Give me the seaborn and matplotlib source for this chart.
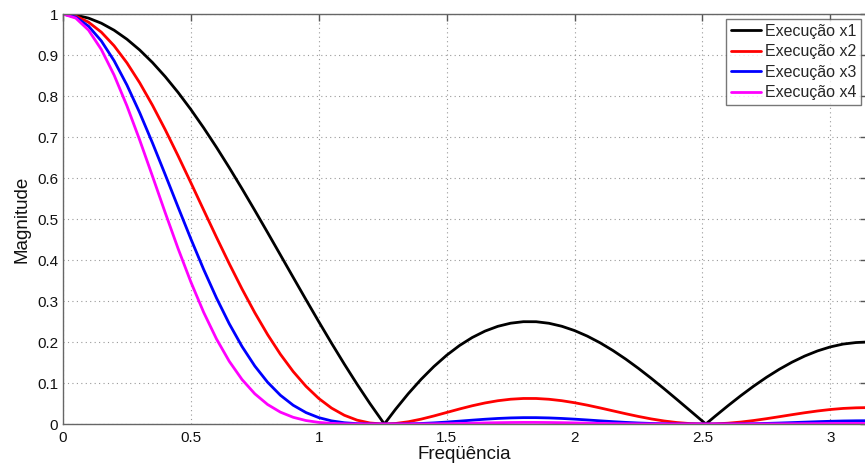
import matplotlib
matplotlib.use("Agg")
import matplotlib.pyplot as plt
import matplotlib.ticker as mticker
import seaborn as sns
import pandas as pd

freq = [0.0, 0.05, 0.1, 0.15, 0.2, 0.25, 0.3, 0.35, 0.4, 0.45, 0.5, 0.55, 0.6, 0.65,
        0.7, 0.75, 0.8, 0.85, 0.9, 0.95, 1.0, 1.05, 1.1, 1.15, 1.2, 1.25, 1.2566,
        1.3, 1.35, 1.4, 1.45, 1.5, 1.55, 1.6, 1.65, 1.7, 1.75, 1.8, 1.85, 1.9, 1.95,
        2.0, 2.05, 2.1, 2.15, 2.2, 2.25, 2.3, 2.35, 2.4, 2.45, 2.5, 2.5133, 2.55,
        2.6, 2.65, 2.7, 2.75, 2.8, 2.85, 2.9, 2.95, 3.0, 3.05, 3.1, 3.1416]

mag_x1 = [1.0, 0.99750, 0.99002, 0.97763, 0.96045, 0.93860, 0.91227, 0.88169, 0.84711,
          0.80882, 0.76716, 0.72245, 0.67508, 0.62543, 0.57392, 0.52097, 0.46700,
          0.41245, 0.35776, 0.30335, 0.24966, 0.19709, 0.14604, 0.09688, 0.04999,
          0.00567, 0.0, 0.03576, 0.07403, 0.10890, 0.14018, 0.16770, 0.19133, 0.21100,
          0.22664, 0.23826, 0.24588, 0.24958, 0.24948, 0.24570, 0.23845, 0.22791,
          0.21435, 0.19804, 0.17927, 0.15834, 0.13559, 0.11137, 0.08604, 0.05996,
          0.03349, 0.00699, 0.0, 0.01917, 0.04465, 0.06912, 0.09225, 0.11375, 0.13334,
          0.15077, 0.16582, 0.17831, 0.18807, 0.19498, 0.19868, 0.2]
mag_x2 = [1.0, 0.99501, 0.98014, 0.95576, 0.92246, 0.88097, 0.83224, 0.77738, 0.71760,
          0.65419, 0.58853, 0.52193, 0.45573, 0.39116, 0.32938, 0.27141, 0.21809,
          0.17012, 0.12799, 0.09202, 0.06233, 0.03884, 0.02133, 0.00939, 0.00250,
          0.00003, 0.0, 0.00128, 0.00548, 0.01186, 0.01965, 0.02812, 0.03661, 0.04452,
          0.05137, 0.05677, 0.06046, 0.06229, 0.06224, 0.06037, 0.05686, 0.05194,
          0.04595, 0.03922, 0.03214, 0.02507, 0.01839, 0.01240, 0.00740, 0.00360,
          0.00112, 0.00005, 0.0, 0.00037, 0.00199, 0.00478, 0.00851, 0.01294, 0.01778,
          0.02273, 0.02750, 0.03179, 0.03537, 0.03802, 0.03947, 0.04]
mag_x3 = [1.0, 0.99252, 0.97036, 0.93438, 0.88598, 0.82688, 0.75923, 0.68540, 0.60789,
          0.52912, 0.45150, 0.37707, 0.30766, 0.24465, 0.18904, 0.14140, 0.10185,
          0.07016, 0.04579, 0.02791, 0.01556, 0.00766, 0.00312, 0.00091, 0.00013,
          0.0, 0.0, 0.00005, 0.00041, 0.00129, 0.00276, 0.00472, 0.00700, 0.00939,
          0.01164, 0.01353, 0.01487, 0.01555, 0.01553, 0.01483, 0.01356, 0.01184,
          0.00985, 0.00777, 0.00576, 0.00397, 0.00249, 0.00138, 0.00064, 0.00022,
          0.00004, 0.0, 0.0, 0.00001, 0.00009, 0.00033, 0.00079, 0.00147, 0.00237,
          0.00343, 0.00456, 0.00567, 0.00665, 0.00741, 0.00784, 0.008]
mag_x4 = [1.0, 0.99004, 0.96067, 0.91348, 0.85093, 0.77611, 0.69262, 0.60431, 0.51495,
          0.42796, 0.34637, 0.27241, 0.20769, 0.15301, 0.10849, 0.07366, 0.04756,
          0.02894, 0.01638, 0.00847, 0.00389, 0.00151, 0.00046, 0.00009, 0.00001,
          0.0, 0.0, 0.0, 0.00003, 0.00014, 0.00039, 0.00079, 0.00134, 0.00198,
          0.00264, 0.00322, 0.00366, 0.00388, 0.00387, 0.00364, 0.00323, 0.00270,
          0.00211, 0.00154, 0.00103, 0.00063, 0.00034, 0.00015, 0.00006, 0.00001,
          0.0, 0.0, 0.0, 0.0, 0.0, 0.00002, 0.00007, 0.00017, 0.00032, 0.00052,
          0.00076, 0.00101, 0.00125, 0.00145, 0.00156, 0.0016]

labels = ["Execução x1", "Execução x2", "Execução x3", "Execução x4"]
colors = ["#000000", "#ff0000", "#0000ff", "#ff00ff"]

series = [mag_x1, mag_x2, mag_x3, mag_x4]
assert all(len(s) == len(freq) for s in series)

rows = []
for lab, vals in zip(labels, series):
    for f, v in zip(freq, vals):
        rows.append({"Frequência": f, "Magnitude": v, "Série": lab})
df = pd.DataFrame(rows)

sns.set_style("white")
plt.rcParams["font.family"] = ["Liberation Sans", "DejaVu Sans"]

fig = plt.figure(figsize=(8.65, 4.68), dpi=100)
ax = fig.add_axes([0.0728, 0.094, 0.929, 0.876])

sns.lineplot(data=df, x="Frequência", y="Magnitude", hue="Série",
             palette=dict(zip(labels, colors)), linewidth=2.0, ax=ax,
             legend=False, sort=False)

for lab, c in zip(labels, colors):
    ax.plot([], [], color=c, linewidth=2.0, label=lab)

ax.set_xlim(0, 3.1416)
ax.set_ylim(0, 1)
ax.set_xticks([0, 0.5, 1, 1.5, 2, 2.5, 3])
ax.set_yticks([i / 10 for i in range(11)])
ax.xaxis.set_major_formatter(mticker.FormatStrFormatter("%g"))
ax.yaxis.set_major_formatter(mticker.FormatStrFormatter("%g"))
ax.grid(True, linestyle=(0, (1, 3)), color="#999999", linewidth=0.8)
ax.tick_params(direction="in", length=5, width=1, colors="#555555",
               labelcolor="#111111", labelsize=11, top=True, right=True)
ax.tick_params(axis="x", pad=5)
for s in ax.spines.values():
    s.set_color("#666666")
    s.set_linewidth(1)

ax.set_xlabel("Freqüência", fontsize=13.5, labelpad=1, color="#111111")
ax.set_ylabel("Magnitude", fontsize=13.5, labelpad=5, color="#111111")

leg = ax.legend(loc="upper right", fontsize=11.5, frameon=True, fancybox=False,
                edgecolor="#555555", handlelength=1.9, handletextpad=0.2,
                labelspacing=0.35, borderpad=0.3, borderaxespad=0.3,
                bbox_to_anchor=(0.999, 1.0))
leg.get_frame().set_linewidth(1)

fig.savefig("out.png", dpi=100)
